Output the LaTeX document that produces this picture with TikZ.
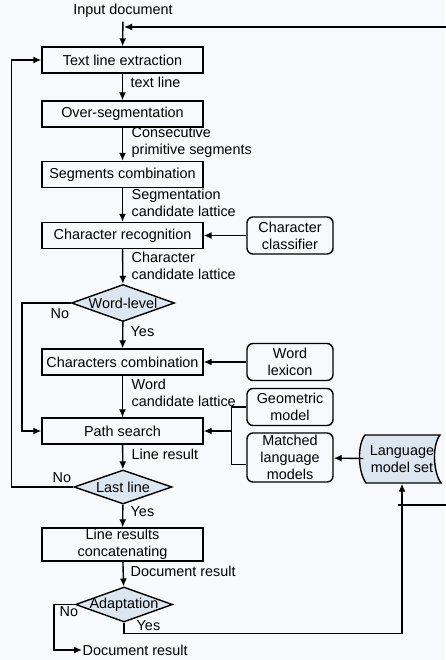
\documentclass[tikz,border=0pt]{standalone}
\usepackage{fontspec}
\setmainfont{Liberation Sans}
\usetikzlibrary{arrows.meta,shapes.geometric}
\definecolor{decisionfill}{RGB}{220,230,241}
\definecolor{pagefill}{RGB}{248,249,252}

\begin{document}
\begin{tikzpicture}[x=1pt, y=-1pt, line width=1.4pt, >={Latex[length=8pt,width=7pt]},
	font=\fontsize{14.4}{16.8}\selectfont,
	process/.style={draw, rectangle, minimum width=161pt, minimum height=26pt, inner sep=0pt, align=center},
	store/.style={draw, rectangle, rounded corners=6pt, minimum width=86pt, minimum height=37pt, inner sep=0pt, align=center},
	decision/.style={draw, diamond, fill=decisionfill, inner sep=0pt},
	note/.style={anchor=west, align=left, inner sep=0pt}]
				\fill[pagefill] (0,0) rectangle (445,660);
				\useasboundingbox (0,0) rectangle (445,660);
				\node (IN)at(123, 11) {Input document};
				\node[process] (TLE)at(122.5, 60) {Text line extraction};
				\node[process] (OS)at(122.5, 114) {Over-segmentation};
				\node[process] (SC)at(122.5, 174.5) {Segments combination};
				\node[process] (CR)at(122.5, 235.5) {Character recognition};
				\node[store] (CC)at(290, 235.5) {Character\\classifier};
				\node[decision, minimum width=103pt, minimum height=37pt, label=center:{Word-level}] (WL)at(123, 303) {};
				\node[process] (CB)at(122.5, 362) {Characters combination};
				\node[store] (WLX)at(290, 362) {Word\\lexicon};
				\node[store] (GM)at(290, 407) {Geometric\\model};
				\node[process] (PS)at(122.5, 431) {Path search};
				\node[store, minimum height=49pt] (MLM)at(290, 457.5) {Matched\\language\\models};
				\draw[fill=decisionfill] (365, 435) .. controls (357, 445) and (358, 472) .. (366, 483) -- (441, 483) .. controls (433, 472) and (432, 445) .. (440, 435) -- cycle;
				\node[minimum width=76pt, minimum height=48pt, inner sep=0pt, align=center] (LMS)at(402, 459) {Language\\model set};
				\node[decision, minimum width=98pt, minimum height=34pt, label=center:{Last line}] (LL)at(123, 487) {};
				\node[process, minimum height=33pt] (LRC)at(122.5, 544.5) {Line results\\concatenating};
				\node[decision, minimum width=97pt, minimum height=35pt, label=center:{Adaptation}] (AD)at(124, 604.5) {};
				\node[anchor=west, inner sep=0pt] (OUT)at(82, 650) {Document result};
				\coordinate (FB)at(124, 27);
				\coordinate (BR)at(398, 505);
				% edge labels
				\node[note] at(130, 82) {text line};
				\node[note] at(131, 142) {Consecutive\\primitive segments};
				\node[note] at(131, 202.5) {Segmentation\\candidate lattice};
				\node[note] at(131, 265.5) {Character\\candidate lattice};
				\node[note] at(50, 314) {No};
				\node[note] at(130, 332) {Yes};
				\node[note] at(131, 393) {Word\\candidate lattice};
				\node[note] at(131, 454) {Line result};
				\node[note] at(52, 478) {No};
				\node[note] at(130, 512) {Yes};
				\node[note] at(130, 571) {Document result};
				\node[note] at(59, 612) {No};
				\node[note] at(136, 626) {Yes};
				% connectors
				\draw[->] (IN) -- (TLE);
				\draw[->] (TLE) -- (OS);
				\draw[->] (OS) -- (SC);
				\draw[->] (SC) -- (CR);
				\draw[->] (CC) -- (CR);
				\draw[->] (CR) -- (WL);
				\draw[->] (WL) -- (CB);
				\draw[->] (WLX) -- (CB);
				\draw[->] (CB) -- (PS);
				\draw[->] (WL.west) -- ++(-49, 0) |- (PS.west);
				\draw (GM.west) -- ++(-15, 0) coordinate (J) |- ([yshift=-7pt]MLM.west);
				\draw[->] (J |- PS.east) -- (PS.east);
				\draw[->] (LMS) -- (MLM);
				\draw[->] (PS) -- (LL);
				\draw[->] (LL) -- (LRC);
				\draw[->] (LL.west) -- ++(-62, 0) |- (TLE.west);
				\draw[->] (LRC) -- (AD);
				\draw[->] (AD.west) -- ++(-21, 0) |- (OUT.west);
				\draw[->] (AD.south) -- ++(0, 11) -| (LMS.south);
				\draw[->] (BR) -- (452, 505) |- (FB);
			\end{tikzpicture}
\end{document}
